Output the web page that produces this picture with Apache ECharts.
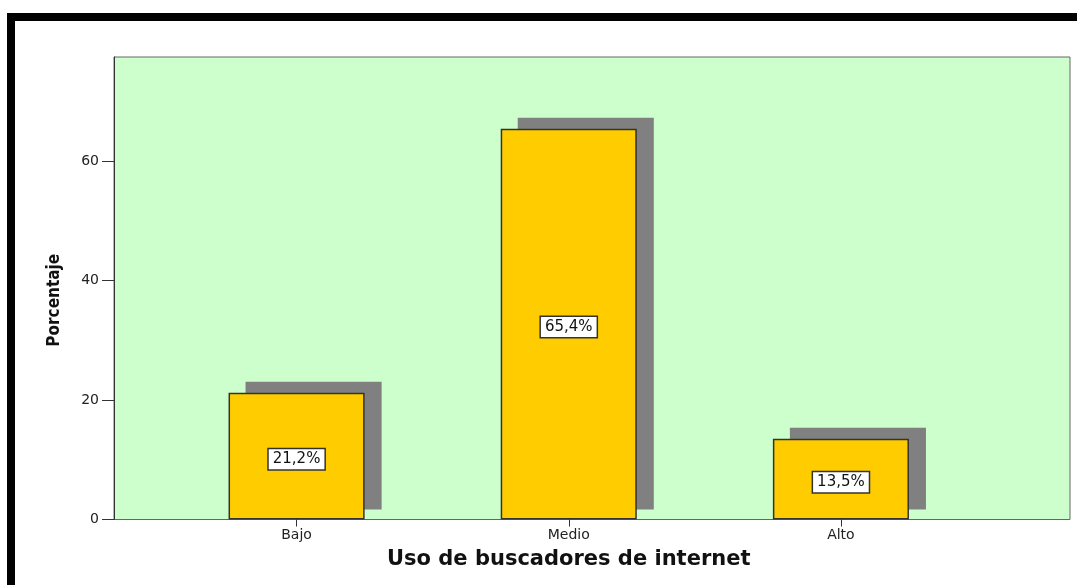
<!DOCTYPE html>
<html>
<head>
<meta charset="utf-8">
<script src="https://cdn.jsdelivr.net/npm/echarts@6/dist/echarts.min.js"></script>
<style>
html,body{margin:0;padding:0;background:#fff;}
#c{width:1077px;height:585px;}
</style>
</head>
<body>
<div id="c"></div>
<script>
const categories = ['Bajo', 'Medio', 'Alto'];
const percentValues = [21.2, 65.4, 13.5];
const yTickValues = [0, 20, 40, 60];
const yMax = 77.4;
const xTitle = 'Uso de buscadores de internet';
const yTitle = 'Porcentaje';

const shadowData = percentValues.map((v, i) => [i, v]);

const chart = echarts.init(document.getElementById('c'), null, {renderer: 'canvas'});
chart.setOption({
  animation: false,
  backgroundColor: '#ffffff',
  graphic: [{
    type: 'rect',
    silent: true,
    shape: {x: 11, y: 17, width: 1200, height: 800},
    style: {fill: 'none', stroke: '#000', lineWidth: 8}
  }],
  grid: [
    {left: 114, top: 57, right: 7, bottom: 65.5, show: true,
     backgroundColor: '#CCFFCC', borderColor: '#666', borderWidth: 1},
    {left: 160.5, top: 57, right: 100, bottom: 65.5}
  ],
  xAxis: [
    {gridIndex: 0, type: 'value', show: false, min: 0, max: 1},
    {gridIndex: 1, type: 'category', data: categories,
     axisLine: {show: false},
     axisTick: {show: true, alignWithLabel: true, length: 7, lineStyle: {color: '#333'}},
     axisLabel: {margin: 9, color: '#222', fontSize: 14, fontFamily: 'DejaVu Sans'},
     name: xTitle, nameLocation: 'middle', nameGap: 30,
     nameTextStyle: {fontSize: 21, fontWeight: 'bold', color: '#111', fontFamily: 'DejaVu Sans'}}
  ],
  yAxis: [
    {gridIndex: 0, type: 'value', min: 0, max: yMax,
     splitLine: {show: false},
     axisLine: {show: true, lineStyle: {color: '#333'}},
     axisTick: {show: true, length: 12, customValues: yTickValues, lineStyle: {color: '#333'}},
     axisLabel: {margin: 15, customValues: yTickValues, color: '#222', fontSize: 14, fontFamily: 'DejaVu Sans'},
     name: yTitle, nameLocation: 'middle', nameGap: 51, nameRotate: 90,
     nameTextStyle: {fontSize: 17, fontWeight: 'bold', color: '#111',
       fontFamily: "'Liberation Sans Narrow', 'DejaVu Sans Condensed', sans-serif",
       padding: [0, 24, 0, 0]}},
    {gridIndex: 1, type: 'value', min: 0, max: yMax, show: false, splitLine: {show: false}}
  ],
  series: [
    {
      type: 'custom', xAxisIndex: 1, yAxisIndex: 1, z: 1, silent: true,
      data: shadowData,
      renderItem: function (params, api) {
        const top = api.coord([api.value(0), api.value(1)]);
        const base = api.coord([api.value(0), 0]);
        const w = api.size([1, 0])[0] * 0.5;
        const y0 = top[1] - 11;
        const y1 = base[1] - 10;
        return {type: 'rect', shape: {x: top[0] - w / 2 + 17, y: y0, width: w, height: y1 - y0},
                style: {fill: '#808080'}};
      }
    },
    {
      type: 'bar', xAxisIndex: 1, yAxisIndex: 1, z: 2,
      data: percentValues, barWidth: '50%',
      itemStyle: {color: '#FFCC00', borderColor: '#333', borderWidth: 1.5},
      label: {
        show: true, position: 'inside', offset: [0, 3],
        formatter: p => p.value.toFixed(1).replace('.', ',') + '%',
        color: '#111', fontSize: 15, fontFamily: 'DejaVu Sans',
        backgroundColor: '#fff', borderColor: '#333', borderWidth: 1.5,
        padding: [3, 4, 2, 4]
      }
    }
  ]
});
</script>
</body>
</html>
